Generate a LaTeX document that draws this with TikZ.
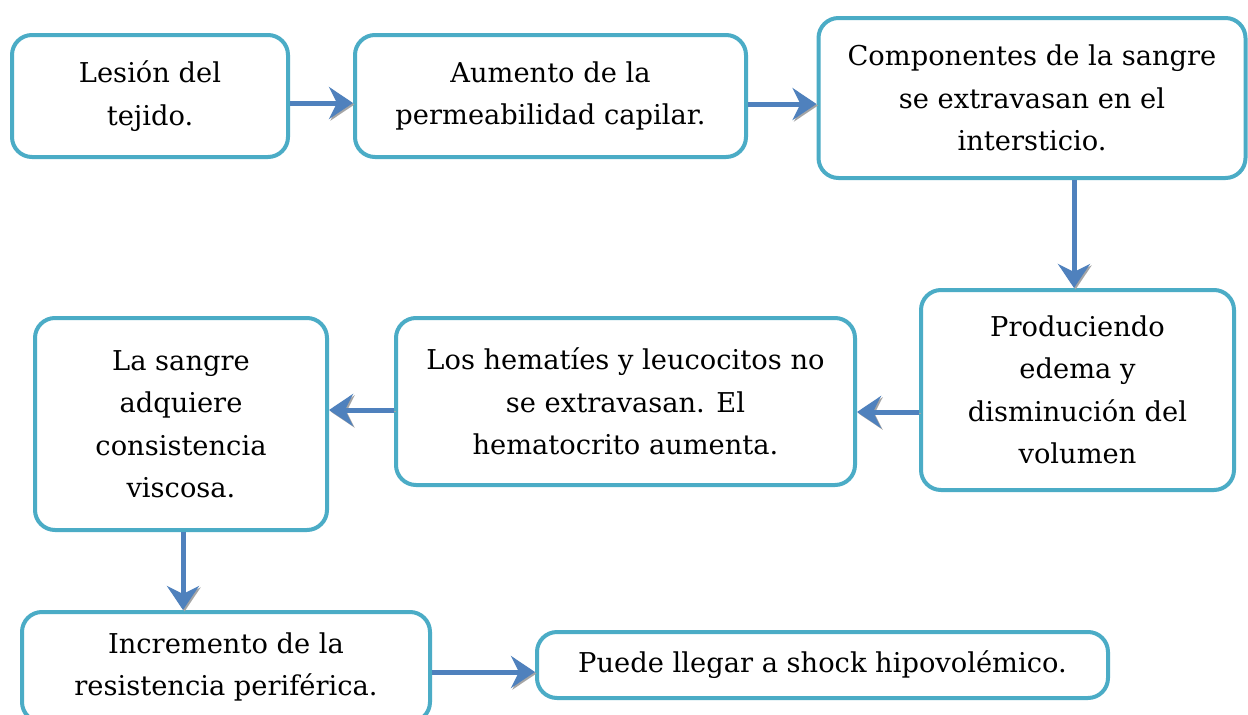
\documentclass[tikz,border=0pt]{standalone}
\usepackage{fontspec}
\setmainfont{DejaVu Serif}
\usetikzlibrary{arrows.meta}
\definecolor{boxcol}{RGB}{75,172,198}
\definecolor{arrcol}{RGB}{79,129,189}
\definecolor{shadcol}{RGB}{165,165,165}
\tikzset{
  box/.style={draw=boxcol, line width=4pt, rounded corners=20pt, fill=white,
    align=center, inner sep=0pt, font=\fontsize{27.3}{42.5}\selectfont, text=black},
  arr/.style={draw=arrcol, line width=5pt, -{Stealth[length=24pt,width=32pt,inset=8pt]},
    preaction={draw=shadcol, transform canvas={shift={(1.5pt,-1.5pt)}}}},
}
\begin{document}
\begin{tikzpicture}[x=1pt,y=-1pt]
\useasboundingbox (0,0) rectangle (1248,715);
\fill[white] (0,0) rectangle (1248,715);
\begin{scope}
\clip (0,0) rectangle (1248,715);
\node[box, minimum width=276pt, minimum height=122pt] (b1) at (150,96) {Lesión del\\tejido.};
\node[box, minimum width=391pt, minimum height=122pt] (b2) at (550.5,96) {Aumento de la\\permeabilidad capilar.};
\node[box, minimum width=427pt, minimum height=160pt] (b3) at (1032,98) {Componentes de la sangre\\se extravasan en el\\intersticio.};
\node[box, minimum width=313pt, minimum height=200pt] (b4) at (1077.5,390) {Produciendo\\edema y\\disminución del\\volumen};
\node[box, minimum width=459pt, minimum height=167pt] (b5) at (625.5,401.5) {Los hematíes y leucocitos no\\se extravasan. El\\hematocrito aumenta.};
\node[box, minimum width=292pt, minimum height=212pt] (b6) at (181,424) {La sangre\\adquiere\\consistencia\\viscosa.};
\node[box, minimum width=408pt, minimum height=110pt] (b7) at (226,667) {Incremento de la\\resistencia periférica.};
\node[box, minimum width=571pt, minimum height=66pt] (b8) at (822.5,665) {Puede llegar a shock hipovolémico.};
\end{scope}
\draw[arr] (b1.east |- 0,103) -- (b2.west |- 0,103);
\draw[arr] (b2.east |- 0,104) -- (b3.west |- 0,104);
\draw[arr] (b3.south -| 1074,0) -- (b4.north -| 1074,0);
\draw[arr] (b4.west |- 0,412) -- (b5.east |- 0,412);
\draw[arr] (b5.west |- 0,410) -- (b6.east |- 0,410);
\draw[arr] (b6.south -| 183,0) -- (b7.north -| 183,0);
\draw[arr] (b7.east |- 0,672) -- (b8.west |- 0,672);
\end{tikzpicture}
\end{document}
